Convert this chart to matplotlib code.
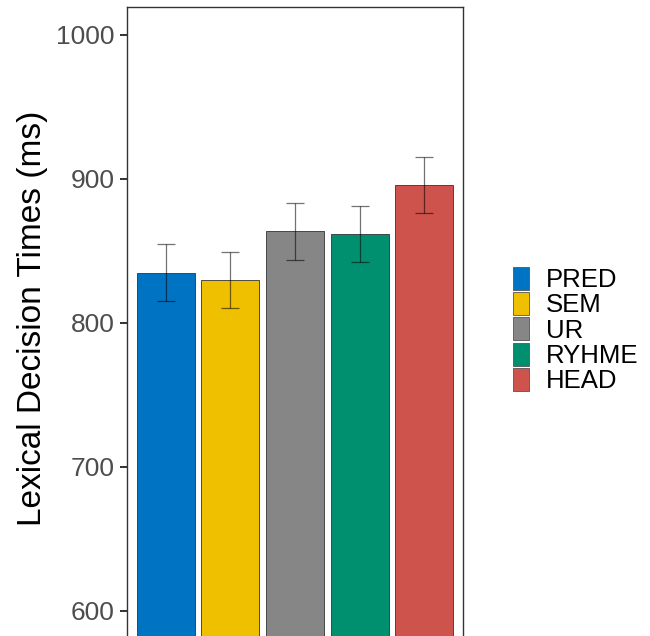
import matplotlib
matplotlib.use("Agg")
import matplotlib.pyplot as plt
from matplotlib.patches import Patch

plt.rcParams['font.family'] = ['Liberation Sans', 'DejaVu Sans']

categories = ["PRED", "SEM", "UR", "RYHME", "HEAD"]
means = [835.0, 830.0, 863.5, 861.5, 895.5]
errors = [19.5, 19.5, 19.5, 19.5, 19.5]
colors = ["#0073C2", "#EFC000", "#868686", "#00906F", "#CD534C"]
yticks = [600, 700, 800, 900, 1000]

W, H = 650, 636
fig = plt.figure(figsize=(W/100, H/100), dpi=100)

ymin, ymax = 575.0, 1019.4
px_per = 1.44
left, right, top = 127, 463, 7
bottom = top + (ymax - ymin) * px_per
ax = fig.add_axes([left/W, 1 - bottom/H, (right-left)/W, (bottom-top)/H])

x = list(range(1, len(categories) + 1))
ax.bar(x, [m - ymin for m in means], bottom=ymin, width=0.9, color=colors,
       edgecolor="#333333", linewidth=0.6, zorder=2)
ax.errorbar(x, means, yerr=errors, fmt="none", ecolor=(0, 0, 0, 0.55),
            elinewidth=0.9, capsize=6.5, capthick=0.9, zorder=3)

ax.set_xlim(0.4, 5.6)
ax.set_ylim(ymin, ymax)
ax.set_yticks(yticks)
ax.set_yticklabels([str(t) for t in yticks], fontsize=19, color="#4D4D4D")
ax.set_xticks([])
ax.tick_params(axis="y", length=5, width=1.4, color="#333333", pad=4)
for s in ax.spines.values():
    s.set_color("#333333")
    s.set_linewidth(1.0)

fig.text(33/W, 1 - 318/H, "Lexical Decision Times (ms)", rotation=90,
         fontsize=24, ha="center", va="center", color="black")

handles = [Patch(facecolor=c, edgecolor="#555555", linewidth=0.6) for c in colors]
leg = fig.legend(handles, categories, loc="center left", bbox_to_anchor=(503/W, 1 - 330/H),
                 frameon=False, fontsize=18.5, handlelength=0.6, handleheight=1.0,
                 handletextpad=0.66, labelspacing=0.0, borderaxespad=0)

fig.savefig("out.png", dpi=100)
